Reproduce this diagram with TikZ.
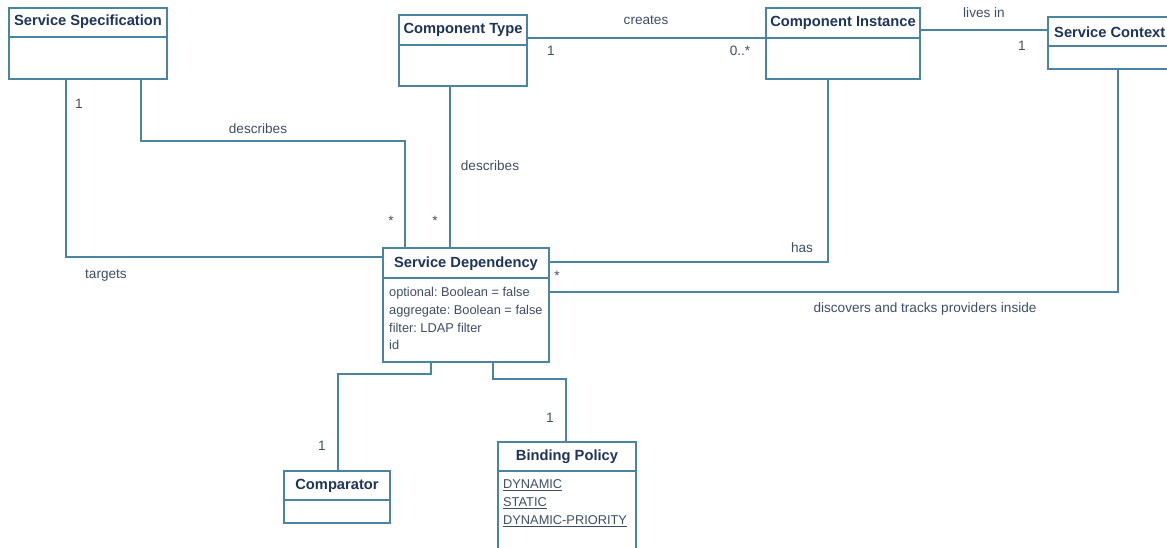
\documentclass[tikz,border=0pt]{standalone}
\usepackage{fontspec}
\setmainfont{Liberation Sans}
\frenchspacing
\definecolor{edge}{RGB}{74,132,160}
\definecolor{titlec}{RGB}{30,52,92}
\definecolor{txt}{RGB}{62,78,104}
\begin{document}
\begin{tikzpicture}[x=1pt,y=-1pt,
  classbox/.style={draw=edge,line width=1.1pt,fill=white,anchor=north west,inner sep=0pt,outer sep=0pt},
  ttl/.style={font=\fontsize{14.7}{16}\selectfont\bfseries,text=titlec,inner sep=0pt},
  attr/.style={font=\fontsize{12.8}{15}\selectfont,text=txt,anchor=west,inner sep=0pt},
  lbl/.style={font=\fontsize{13.6}{15}\selectfont,text=txt,inner sep=0pt},
  conn/.style={draw=edge,line width=1.1pt}]
\useasboundingbox (0,0) rectangle (1167,547);
\node[classbox,minimum width=158pt,minimum height=71pt] (ss) at (9,8) {};
\node[classbox,minimum width=128pt,minimum height=71pt] (ct) at (399,15) {};
\node[classbox,minimum width=154pt,minimum height=71pt] (ci) at (766,8) {};
\node[classbox,minimum width=127pt,minimum height=52pt] (sc) at (1048,17) {};
\node[classbox,minimum width=166pt,minimum height=114pt] (sd) at (383,248) {};
\node[classbox,minimum width=106pt,minimum height=52pt] (comp) at (284,471) {};
\node[classbox,minimum width=138pt,minimum height=118pt] (bp) at (498,442) {};
% header separators
\draw[conn] ([yshift=-29pt]ss.north west) -- ([yshift=-29pt]ss.north east);
\draw[conn] ([yshift=-30pt]ct.north west) -- ([yshift=-30pt]ct.north east);
\draw[conn] ([yshift=-30pt]ci.north west) -- ([yshift=-30pt]ci.north east);
\draw[conn] ([yshift=-29pt]sc.north west) -- ([yshift=-29pt]sc.north east);
\draw[conn] ([yshift=-30pt]sd.north west) -- ([yshift=-30pt]sd.north east);
\draw[conn] ([yshift=-29pt]comp.north west) -- ([yshift=-29pt]comp.north east);
\draw[conn] ([yshift=-29pt]bp.north west) -- ([yshift=-29pt]bp.north east);
% titles
\node[ttl] (ssT) at (88,22) {Service Specification};
\node[ttl] (ctT) at (463,30) {Component Type};
\node[ttl] (ciT) at (843,23) {Component Instance};
\node[ttl,anchor=west] (scT) at (1054,32) {Service Context};
\node[ttl] (sdT) at (466,264) {Service Dependency};
\node[ttl] (compT) at (337,486) {Comparator};
\node[ttl] (bpT) at (567,457) {Binding Policy};
% attributes
\node[attr] (a1) at (389,293) {optional: Boolean = false};
\node[attr] (a2) at (389,311) {aggregate: Boolean = false};
\node[attr] (a3) at (389,328) {filter: LDAP filter};
\node[attr] (a4) at (389,345) {id};
\node[attr] (b1) at (503,485) {\underline{DYNAMIC}};
\node[attr] (b2) at (503,503) {\underline{STATIC}};
\node[attr] (b3) at (503,521) {\underline{DYNAMIC-PRIORITY}};
% connectors
\draw[conn] ([xshift=57pt]ss.south west) |- ([yshift=-9pt]sd.north west);
\draw[conn] ([xshift=132pt]ss.south west) |- ([xshift=22pt,yshift=107pt]sd.north west) -- ([xshift=22pt]sd.north west);
\draw[conn] ([xshift=-13pt]ct.south) -- ([xshift=67pt]sd.north west);
\draw[conn] ([yshift=-23pt]ct.north east) -- ([yshift=-30pt]ci.north west);
\draw[conn] ([yshift=-22pt]ci.north east) -- ([yshift=-13pt]sc.north west);
\draw[conn] ([xshift=62pt]ci.south west) |- ([yshift=-14pt]sd.north east);
\draw[conn] ([xshift=70pt]sc.south west) |- ([yshift=-44pt]sd.north east);
\draw[conn] ([xshift=48pt]sd.south west) -- ++(0,12) -| ([xshift=54pt]comp.north west);
\draw[conn] ([xshift=110pt]sd.south west) -- ++(0,17) -| ([xshift=68pt]bp.north west);
% labels
\node[lbl] (l1) at (646,20) {creates};
\node[lbl] (l2) at (551,51) {1};
\node[lbl] (l3) at (740,51) {0..*};
\node[lbl] (l4) at (984,13) {lives in};
\node[lbl] (l5) at (1022,46) {1};
\node[lbl] (l6) at (79,104) {1};
\node[lbl] (l7) at (258,129) {describes};
\node[lbl] (l8) at (391,221) {*};
\node[lbl] (l9) at (435,221) {*};
\node[lbl] (l10) at (490,166) {describes};
\node[lbl] (l11) at (106,276) {targets};
\node[lbl] (l12) at (802,248) {has};
\node[lbl] (l13) at (557,276) {*};
\node[lbl] (l14) at (925,309) {discovers and tracks providers inside};
\node[lbl] (l15) at (322,446) {1};
\node[lbl] (l16) at (550,418) {1};
\end{tikzpicture}
\end{document}
